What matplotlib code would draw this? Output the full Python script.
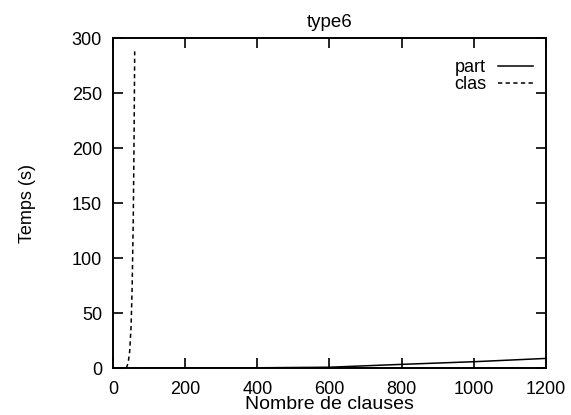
import matplotlib
matplotlib.use('Agg')
import matplotlib.pyplot as plt

# data
part_x = [0, 200, 400, 600, 800, 1000, 1200]
part_y = [0, 0.1, 0.3, 0.8, 3.4, 5.8, 8.8]

clas_x = [37, 42, 46, 50, 53, 56, 58, 60]
clas_y = [0, 5, 15, 38, 75, 135, 200, 288]

x_ticks = [0, 200, 400, 600, 800, 1000, 1200]
y_ticks = [0, 50, 100, 150, 200, 250, 300]

plt.rcParams['font.family'] = ['Liberation Sans', 'DejaVu Sans']
plt.rcParams['font.size'] = 13

fig = plt.figure(figsize=(5.71, 4.15), dpi=100)
ax = fig.add_axes([0.198, 0.113, 0.758, 0.795])

ax.plot(part_x, part_y, color='black', lw=1.1, label='part')
ax.plot(clas_x, clas_y, color='black', lw=1.1, ls=(0, (2.8, 2.2)), label='clas')

ax.set_xlim(0, 1200)
ax.set_ylim(0, 300)
ax.set_xticks(x_ticks)
ax.set_yticks(y_ticks)
ax.tick_params(direction='in', length=7, width=1.2, top=True, right=True)
ax.tick_params(axis='y', pad=8)
ax.tick_params(axis='x', pad=9)
for s in ax.spines.values():
    s.set_linewidth(1.4)

ax.set_title('type6', fontsize=13.5, pad=8)
ax.set_xlabel('Nombre de clauses', fontsize=14, labelpad=-1)
ax.set_ylabel('Temps (s)', labelpad=26)

leg = ax.legend(loc='upper right', bbox_to_anchor=(1.0, 0.975), frameon=False,
                markerfirst=False, handlelength=1.95, handletextpad=0.65,
                labelspacing=0.0, borderaxespad=0.3)

fig.savefig('out.png', dpi=100)
